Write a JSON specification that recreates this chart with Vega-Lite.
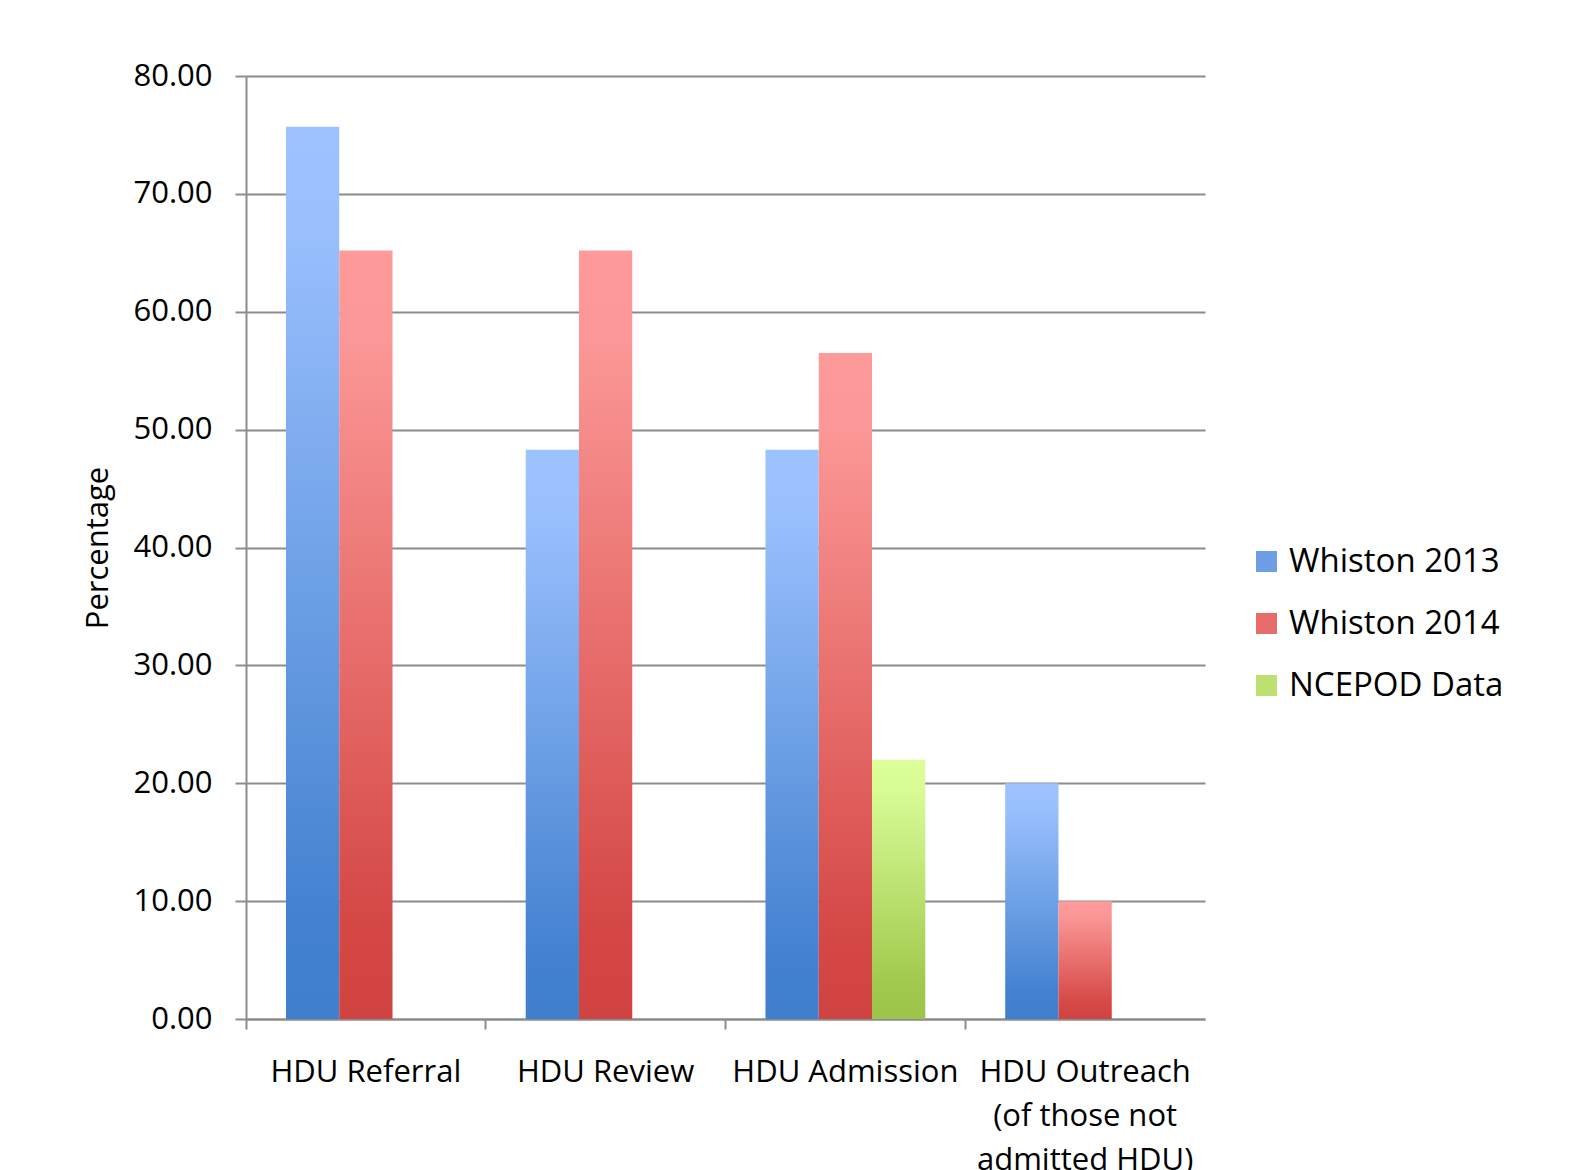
{
  "$schema": "https://vega.github.io/schema/vega-lite/v6.json",
  "autosize": "none",
  "width": 959,
  "height": 943,
  "padding": {"left": 246, "top": 76, "right": 367, "bottom": 151},
  "background": "white",
  "config": {
    "font": "Open Sans",
    "view": {"stroke": null}
  },
  "data": {
    "values": [
      {"category": "HDU Referral", "series": "Whiston 2013", "value": 75.7},
      {"category": "HDU Referral", "series": "Whiston 2014", "value": 65.2},
      {"category": "HDU Review", "series": "Whiston 2013", "value": 48.3},
      {"category": "HDU Review", "series": "Whiston 2014", "value": 65.2},
      {"category": "HDU Admission", "series": "Whiston 2013", "value": 48.3},
      {"category": "HDU Admission", "series": "Whiston 2014", "value": 56.5},
      {"category": "HDU Admission", "series": "NCEPOD Data", "value": 22.0},
      {"category": "HDU Outreach|(of those not|admitted HDU)", "series": "Whiston 2013", "value": 20.0},
      {"category": "HDU Outreach|(of those not|admitted HDU)", "series": "Whiston 2014", "value": 10.0}
    ]
  },
  "mark": {"type": "bar"},
  "encoding": {
    "x": {
      "field": "category",
      "type": "nominal",
      "sort": null,
      "scale": {"paddingInner": 0, "paddingOuter": 0},
      "axis": {
        "title": null,
        "labelAngle": 0,
        "labelExpr": "split(datum.label, '|')",
        "labelFontSize": 31,
        "labelColor": "black",
        "labelLineHeight": 44,
        "labelPadding": 28,
        "labelBaseline": "top",
        "bandPosition": 0,
        "tickSize": 10,
        "tickWidth": 2,
        "tickColor": "#8c8c8c",
        "domainColor": "#8c8c8c",
        "domainWidth": 2,
        "labelLimit": 400,
        "grid": false
      }
    },
    "xOffset": {
      "field": "series",
      "type": "nominal",
      "sort": ["Whiston 2013", "Whiston 2014", "NCEPOD Data"],
      "scale": {"paddingOuter": 0.75, "paddingInner": 0}
    },
    "y": {
      "field": "value",
      "type": "quantitative",
      "scale": {"domain": [0, 80]},
      "axis": {
        "title": "Percentage",
        "titleFontSize": 31,
        "titleFontWeight": "normal",
        "titleColor": "black",
        "titlePadding": 18,
        "values": [0, 10, 20, 30, 40, 50, 60, 70, 80],
        "format": ".2f",
        "labelFontSize": 31,
        "labelColor": "black",
        "labelPadding": 23,
        "tickSize": 11,
        "tickWidth": 2,
        "tickColor": "#8c8c8c",
        "domainColor": "#8c8c8c",
        "domainWidth": 2,
        "gridColor": "#8c8c8c",
        "gridWidth": 2
      }
    },
    "color": {
      "field": "series",
      "type": "nominal",
      "condition": [
        {"test": "datum.series === 'Whiston 2013'", "value": {"gradient": "linear", "x1": 0, "y1": 0, "x2": 0, "y2": 1, "stops": [
            {"offset": 0, "color": "#9cc2ff"}, {"offset": 0.12, "color": "#99bffd"}, {"offset": 0.88, "color": "#4482d0"}, {"offset": 1, "color": "#3f7fcd"}]}},
        {"test": "datum.series === 'Whiston 2014'", "value": {"gradient": "linear", "x1": 0, "y1": 0, "x2": 0, "y2": 1, "stops": [
            {"offset": 0, "color": "#ff9a9a"}, {"offset": 0.12, "color": "#fb9796"}, {"offset": 0.88, "color": "#d44745"}, {"offset": 1, "color": "#d04341"}]}},
        {"test": "datum.series === 'NCEPOD Data'", "value": {"gradient": "linear", "x1": 0, "y1": 0, "x2": 0, "y2": 1, "stops": [
            {"offset": 0, "color": "#dcff99"}, {"offset": 0.12, "color": "#d8fb96"}, {"offset": 0.88, "color": "#a0c84c"}, {"offset": 1, "color": "#9bc448"}]}}
      ],
      "sort": ["Whiston 2013", "Whiston 2014", "NCEPOD Data"],
      "scale": {
        "domain": ["Whiston 2013", "Whiston 2014", "NCEPOD Data"],
        "range": ["#6d9ee6", "#e76d6b", "#bde171"]
      },
      "legend": {
        "title": null,
        "orient": "none",
        "legendX": 1004,
        "legendY": 469,
        "symbolType": "square",
        "symbolSize": 441,
        "symbolStrokeWidth": 0,
        "symbolOpacity": 1,
        "labelFontSize": 33,
        "labelColor": "black",
        "labelLimit": 400,
        "labelOffset": 6,
        "rowPadding": 28,
        "encode": {
          "symbols": {
            "update": {
              "fill": [
                {"test": "datum.value === 'Whiston 2013'", "value": {"gradient": "linear", "x1": 0, "y1": 0, "x2": 0, "y2": 1, "stops": [{"offset": 0, "color": "#9cc2ff"}, {"offset": 1, "color": "#3f7fcd"}]}},
                {"test": "datum.value === 'Whiston 2014'", "value": {"gradient": "linear", "x1": 0, "y1": 0, "x2": 0, "y2": 1, "stops": [{"offset": 0, "color": "#ff9a9a"}, {"offset": 1, "color": "#d04341"}]}},
                {"value": {"gradient": "linear", "x1": 0, "y1": 0, "x2": 0, "y2": 1, "stops": [{"offset": 0, "color": "#dcff99"}, {"offset": 1, "color": "#9bc448"}]}}
              ]
            }
          }
        }
      }
    }
  }
}
